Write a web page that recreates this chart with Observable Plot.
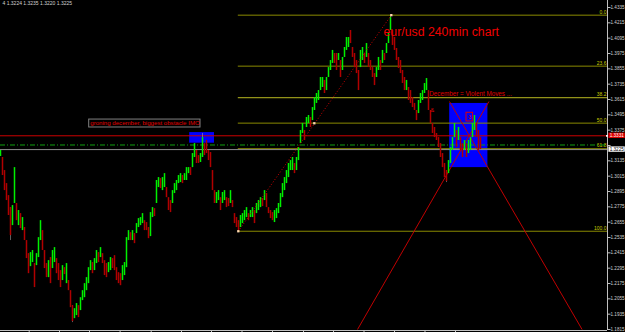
<!DOCTYPE html>
<html>
<head>
<meta charset="utf-8">
<script src="https://cdn.jsdelivr.net/npm/d3@7"></script>
<script src="https://cdn.jsdelivr.net/npm/@observablehq/plot@0.6"></script>
<style>
  html, body { margin: 0; padding: 0; background: #000; }
  #chart { width: 625px; height: 332px; overflow: hidden; }
</style>
</head>
<body>
<div id="chart"></div>
<script>
// ---- Data (EUR/USD, 4-hour candles, one per slot) ----
const opens = [
  1.3169,1.3161,1.3059,1.2957,1.2863,1.2769,1.2628,1.2801,1.2801,1.2628,
  1.2722,1.2589,1.2613,1.2511,1.2409,1.2307,1.2339,1.2331,1.2315,1.2378,
  1.2511,1.2589,1.2433,1.2331,1.2221,1.2378,1.2292,1.2339,1.2370,1.2331,
  1.2276,1.2198,1.2299,1.2174,1.2198,1.2119,1.2002,1.1900,1.1924,1.2002,
  1.1963,1.2041,1.2064,1.2119,1.2174,1.2276,1.2339,1.2276,1.2331,1.2417,
  1.2378,1.2409,1.2354,1.2331,1.2260,1.2276,1.2370,1.2393,1.2299,1.2260,
  1.2252,1.2198,1.2237,1.2299,1.2511,1.2573,1.2511,1.2566,1.2566,1.2613,
  1.2628,1.2644,1.2667,1.2652,1.2613,1.2542,1.2691,1.2761,1.2801,1.2926,
  1.2996,1.2902,1.2926,1.2926,1.2847,1.2824,1.2801,1.2879,1.2902,1.2957,
  1.2965,1.3020,1.2981,1.2981,1.3035,1.3082,1.3082,1.3161,1.3216,1.3176,
  1.3122,1.3161,1.3270,1.3294,1.3216,1.3200,1.3059,1.2902,1.2801,1.2824,
  1.2847,1.2801,1.2824,1.2847,1.2840,1.2801,1.2824,1.2722,1.2691,1.2667,
  1.2613,1.2644,1.2667,1.2691,1.2722,1.2691,1.2691,1.2746,1.2722,1.2746,
  1.2769,1.2840,1.2824,1.2879,1.2769,1.2746,1.2730,1.2652,1.2683,1.2722,
  1.2769,1.2847,1.2902,1.2957,1.3004,1.3059,1.3059,1.3114,1.3059,1.3137,
  1.3270,1.3349,1.3372,1.3396,1.3427,1.3474,1.3450,1.3529,1.3584,1.3607,
  1.3685,1.3709,1.3764,1.3685,1.3787,1.3842,1.3897,1.3975,1.3975,1.3920,
  1.3920,1.3842,1.3944,1.3999,1.4022,1.4155,1.4022,1.3975,1.3920,1.3842,
  1.3865,1.3920,1.3975,1.3944,1.3975,1.3920,1.3865,1.3818,1.3787,1.3842,
  1.3920,1.3897,1.3975,1.3975,1.4053,1.4155,1.4155,1.4100,1.4014,1.3944,
  1.3920,1.3842,1.3787,1.3685,1.3709,1.3685,1.3630,1.3584,1.3529,1.3505,
  1.3584,1.3607,1.3662,1.3685,1.3685,1.3529,1.3427,1.3396,1.3349,1.3317,
  1.3270,1.3192,1.3114,1.3059,1.3035,1.3114,1.3216,1.3317,1.3372,1.3294,
  1.3317,1.3270,1.3216,1.3270,1.3192,1.3216,1.3317,1.3372,1.3427,1.3372,1.3317
];
const closes = [
  1.3216,1.3020,1.2902,1.2824,1.2707,1.2550,1.2785,1.3082,1.2667,1.2746,
  1.2605,1.2691,1.2511,1.2370,1.2252,1.2417,1.2433,1.2143,1.2409,1.2534,
  1.2667,1.2433,1.2292,1.2221,1.2354,1.2174,1.2433,1.2456,1.2252,1.2198,
  1.2143,1.2315,1.2245,1.2331,1.2119,1.1986,1.1877,1.1978,1.2018,1.1908,
  1.2064,1.2119,1.2174,1.2221,1.2299,1.2354,1.2252,1.2370,1.2433,1.2339,
  1.2456,1.2331,1.2237,1.2221,1.2339,1.2378,1.2292,1.2276,1.2198,1.2174,
  1.2158,1.2315,1.2339,1.2534,1.2589,1.2511,1.2589,1.2487,1.2644,1.2683,
  1.2691,1.2722,1.2589,1.2589,1.2526,1.2730,1.2769,1.2699,1.2981,1.3004,
  1.2918,1.3004,1.3035,1.2847,1.2746,1.2730,1.2902,1.2957,1.2981,1.3020,
  1.3035,1.2957,1.3035,1.3082,1.3082,1.3020,1.3192,1.3270,1.3114,1.3114,
  1.3192,1.3317,1.3176,1.3192,1.3137,1.3082,1.2902,1.2801,1.2887,1.2902,
  1.2746,1.2887,1.2902,1.2769,1.2777,1.2902,1.2769,1.2644,1.2613,1.2589,
  1.2707,1.2722,1.2746,1.2769,1.2667,1.2746,1.2769,1.2644,1.2801,1.2824,
  1.2847,1.2777,1.2902,1.2769,1.2722,1.2683,1.2667,1.2746,1.2761,1.2801,
  1.2879,1.2957,1.3004,1.3059,1.3114,1.3137,1.3161,1.3035,1.3161,1.3239,
  1.3372,1.3427,1.3294,1.3474,1.3490,1.3396,1.3552,1.3630,1.3662,1.3685,
  1.3787,1.3787,1.3662,1.3787,1.3865,1.3920,1.3999,1.3897,1.3842,1.3975,
  1.3787,1.3944,1.4022,1.4100,1.4100,1.4053,1.3944,1.3865,1.3818,1.3685,
  1.3999,1.4022,1.3897,1.4053,1.3865,1.3842,1.3787,1.3724,1.3865,1.3944,
  1.3842,1.3999,1.3920,1.4053,1.4132,1.4257,1.4038,1.3999,1.3920,1.3858,
  1.3818,1.3740,1.3685,1.3764,1.3607,1.3584,1.3552,1.3529,1.3450,1.3607,
  1.3662,1.3685,1.3740,1.3779,1.3529,1.3427,1.3349,1.3317,1.3294,1.3239,
  1.3161,1.3082,1.3004,1.2973,1.3137,1.3239,1.3317,1.3427,1.3239,1.3396,
  1.3216,1.3161,1.3294,1.3161,1.3294,1.3317,1.3427,1.3490,1.3317,1.3216,1.3223
];
// notable wicks (candle slot, high, low)
const wickSlot = [5, 36, 101, 195, 223];
const wickHigh = [1.2769, 1.2002, 1.3349, 1.4273, 1.3059];
const wickLow  = [1.2511, 1.1869, 1.3161, 1.4155, 1.2965];

// price axis labels (1.3255 is hidden under the price tags on the original)
const yTicks = [1.4335,1.4215,1.4095,1.3975,1.3855,1.3735,1.3615,1.3495,1.3375,1.3255,1.3135,
                1.3015,1.2895,1.2775,1.2655,1.2535,1.2415,1.2295,1.2175,1.2055,1.1935,1.1815];
// time axis tick slots
const xTicks = [14.35,29.5,44.5,59.8,75.35,90.5,105.5,120.75,136,151.5,166.5,181.75,197,212.25,227.5];

// Fibonacci retracement (anchored at the Aug low and the Nov high)
const fibLabels = ["0.0","23.6","38.2","50.0","61.8","100.0"];
const fibPrices = [1.4275, 1.3876, 1.3629, 1.3430, 1.3230, 1.2584];
const fibStartSlot = 118.9;
const fibLow  = {slot: 118.9, price: 1.2584};
const fibHigh = {slot: 195.4, price: 1.4275};
const fibMid  = {slot: 156.9, price: 1.3429};

// horizontal levels
const redLevel = 1.3331, greenLevel = 1.3259, bidLevel = 1.3223;

// rectangles (slot / price)
const boxSlots1 = [94.6, 107],   boxPrices1 = [1.3273, 1.3356];
const boxSlots2 = [224.6, 243.7], boxPrices2 = [1.3082, 1.3584];

// long diagonal trend lines through the box
const fanFrom = [[224.5, 1.3599], [244.2, 1.3599]];
const fanTo   = [[290.8, 1.1815], [178.5, 1.1815]];

// ---- Build ----
const candles = opens.map((o, i) => ({i, o, c: closes[i]}));
const up = candles.filter(d => d.c >= d.o);
const down = candles.filter(d => d.c < d.o);
const wicks = wickSlot.map((s, k) => ({i: s, hi: wickHigh[k], lo: wickLow[k]}));
const fib = fibPrices.map((p, k) => ({p, label: fibLabels[k]}));
const fan = fanFrom.map((f, k) => ({x1: f[0], y1: f[1], x2: fanTo[k][0], y2: fanTo[k][1]}));
const boxes = [
  {x1: boxSlots1[0], x2: boxSlots1[1], y1: boxPrices1[0], y2: boxPrices1[1]},
  {x1: boxSlots2[0], x2: boxSlots2[1], y1: boxPrices2[0], y2: boxPrices2[1]}
];
const tags = [
  {p: redLevel, label: "1.3331", bg: "#e00000", fg: "#ffffff"},
  {p: bidLevel, label: "1.3225", bg: "#ffffff", fg: "#000000"}
];
const visibleTicks = yTicks.filter(t => tags.every(g => Math.abs(g.p - t) > 0.004));
const GREEN = "#00f000", RED = "#b00000";
const FONT = "'Liberation Sans', Arial, sans-serif";

const chart = Plot.plot({
  width: 625, height: 332,
  marginLeft: 0, marginRight: 18, marginTop: 0, marginBottom: 2,
  style: {background: "#000", fontFamily: FONT},
  x: {domain: [0, 303.5], range: [0, 607], axis: null},
  y: {domain: [1.1815, 1.4335], range: [329, 7], axis: null},
  marks: [
    Plot.rect(boxes, {x1: "x1", x2: "x2", y1: "y1", y2: "y2", fill: "#0000ff"}),
    Plot.ruleY(fib, {y: "p", x1: () => fibStartSlot, x2: () => 303.5,
      stroke: d => d.label === "38.2" ? "#b8b820" : "#8a8a00", strokeWidth: 1}),
    Plot.text(fib, {x: () => 303, y: "p", text: "label", textAnchor: "end", dy: -3,
      fontSize: 5, fill: "#c8c800"}),
    Plot.ruleY([redLevel], {stroke: "#cc0000", strokeWidth: 1}),
    Plot.ruleY([greenLevel], {stroke: "#10a010", strokeWidth: 1, strokeDasharray: "5,2,1,2"}),
    Plot.ruleY([bidLevel], {stroke: "#8c8c8c", strokeWidth: 1}),
    Plot.link(fan, {x1: "x1", y1: "y1", x2: "x2", y2: "y2", stroke: "#c00000", strokeWidth: 1}),
    Plot.ruleX(wicks, {x: "i", y1: "lo", y2: "hi", stroke: "#a0a0a0", strokeWidth: 0.6}),
    Plot.ruleX(down, {x: "i", y1: "o", y2: "c", stroke: RED, strokeWidth: 1.5}),
    Plot.ruleX(up, {x: "i", y1: "o", y2: "c", stroke: GREEN, strokeWidth: 1.5}),
    Plot.link([{a: fibLow, b: fibHigh}], {x1: d => d.a.slot, y1: d => d.a.price, x2: d => d.b.slot, y2: d => d.b.price,
      stroke: "#d00000", strokeWidth: 1, strokeDasharray: "1,2"}),
    Plot.dot([fibLow, fibHigh, fibMid], {x: "slot", y: "price", symbol: "square", r: 1.3, fill: "#ffd8b0", stroke: "none"}),
    // annotation: small square object
    Plot.rect([{x1: 233, x2: 236.3, y1: 1.3443, y2: 1.3511}], {x1: "x1", x2: "x2", y1: "y1", y2: "y2",
      fill: "none", stroke: "#e00000", strokeWidth: 1}),
    Plot.text([{x: 234.6, y: 1.3477}], {x: "x", y: "y", text: () => "3", fontSize: 5, fill: "#e00000"}),
    Plot.text([{x: 215.9, y: 1.3529}], {x: "x", y: "y", text: () => "&", fontSize: 6, fill: "#e00000"}),
    // labelled note box
    Plot.rect([{x1: 44.35, x2: 100, y1: 1.3396, y2: 1.3458}], {x1: "x1", x2: "x2", y1: "y1", y2: "y2",
      fill: "none", stroke: "#808080", strokeWidth: 1}),
    Plot.text([{x: 44.9, y: 1.3427}], {x: "x", y: "y", text: () => "groning december, biggest obstacle IMO",
      textAnchor: "start", fontSize: 6.1, fill: "#e00000"}),
    Plot.text([{x: 214.4, y: 1.3662}], {x: "x", y: "y", text: () => "December = Violent Moves ...",
      textAnchor: "start", fontSize: 6.3, fill: "#e00000"}),
    Plot.text([{x: 191.5, y: 1.4139}], {x: "x", y: "y", text: () => "eur/usd 240min chart",
      textAnchor: "start", fontSize: 12.3, fill: "#f00000"}),
    // axes
    Plot.ruleX([303.5], {stroke: "#c0c0c0", strokeWidth: 1}),
    Plot.ruleY([1.1815], {dy: 1, stroke: "#c0c0c0", strokeWidth: 1}),
    Plot.ruleX(xTicks, {y1: () => 1.1815, y2: () => 1.1790, dy: 1, stroke: "#c0c0c0", strokeWidth: 1}),
    Plot.link(yTicks, {x1: () => 303.5, x2: () => 305, y1: d => d, y2: d => d, stroke: "#c0c0c0"}),
    Plot.text(visibleTicks, {x: () => 303.5, y: d => d, text: d => d.toFixed(4), dx: 3, textAnchor: "start",
      fontSize: 4.6, fill: "#d0d0d0"}),
    // price tags on the right axis
    Plot.rect(tags, {x1: () => 304.2, x2: () => 312.4, y1: d => d.p - 0.0021, y2: d => d.p + 0.0021, fill: "bg"}),
    Plot.text(tags, {x: () => 304.6, y: "p", text: "label", textAnchor: "start", fontSize: 4.6, fill: "fg"}),
    Plot.dot([{x: 303.2, y: redLevel}], {x: "x", y: "y", symbol: "square", r: 1, fill: "#ffffff"}),
    // header
    Plot.text(["4 1.3224 1.3235 1.3220 1.3225"], {frameAnchor: "top-left", dx: 2, dy: 1, text: d => d,
      textAnchor: "start", lineAnchor: "top", fontSize: 5, fill: "#d0d0d0"})
  ]
});
document.getElementById("chart").appendChild(chart);
</script>
</body>
</html>
